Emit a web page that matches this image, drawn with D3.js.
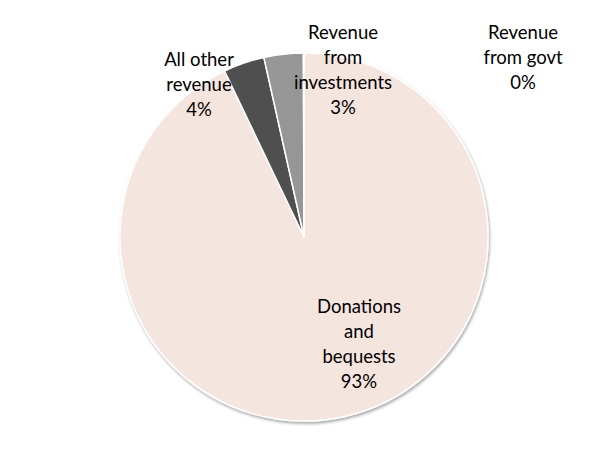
<!DOCTYPE html>
<html>
<head>
<meta charset="utf-8">
<script src="https://cdn.jsdelivr.net/npm/d3@7"></script>
<style>
  body { margin: 0; background: #fff; }
  text { font-family: "Lato", "Open Sans", sans-serif; fill: #000; }
</style>
</head>
<body>
<script>
// slice data (clockwise from 12 o'clock)
var categories = ["Donations and bequests", "All other revenue", "Revenue from investments", "Revenue from govt"];
var values = [92.9, 3.6, 3.45, 0.05];
var percentLabels = ["93%", "4%", "3%", "0%"];
var colors = ["#f5e5df", "#505050", "#969696", "#c0c0c0"];

// label lines (as Excel wraps them)
var labelLines = [
  ["Donations", "and", "bequests"],
  ["All other", "revenue"],
  ["Revenue", "from", "investments"],
  ["Revenue", "from govt"]
];
// label centre positions, in pixels relative to pie centre
var labelPos = [[55, 107.5], [-105, -152], [39, -167], [219, -179]];

var width = 610, height = 473;
var cx = 304, cy = 237, radius = 184;

var svg = d3.select("body").append("svg")
    .attr("width", width)
    .attr("height", height);

var defs = svg.append("defs");
var shadow = defs.append("filter").attr("id", "shadow")
    .attr("x", "-10%").attr("y", "-10%").attr("width", "120%").attr("height", "120%");
shadow.append("feGaussianBlur").attr("in", "SourceAlpha").attr("stdDeviation", 1.5);
shadow.append("feOffset").attr("dx", 1).attr("dy", 1.5).attr("result", "off");
shadow.append("feComponentTransfer").append("feFuncA").attr("type", "linear").attr("slope", 0.35);
var merge = shadow.append("feMerge");
merge.append("feMergeNode");
merge.append("feMergeNode").attr("in", "SourceGraphic");

var g = svg.append("g")
    .attr("transform", "translate(" + cx + "," + cy + ")");

var pie = d3.pie().sort(null).value(function(d) { return d; });
var arc = d3.arc().innerRadius(0).outerRadius(radius);

var arcs = pie(values);

g.append("g").attr("filter", "url(#shadow)")
  .selectAll("path")
  .data(arcs)
  .enter().append("path")
    .attr("d", arc)
    .attr("fill", function(d, i) { return colors[i]; })
    .attr("stroke", "#fff")
    .attr("stroke-width", 1.5)
    .attr("stroke-linejoin", "round");

var lineH = 25;
var labels = g.selectAll(".label")
  .data(categories)
  .enter().append("text")
    .attr("class", "label")
    .attr("text-anchor", "middle")
    .attr("font-size", 18.5)
    .attr("transform", function(d, i) { return "translate(" + labelPos[i][0] + "," + labelPos[i][1] + ")"; });

labels.each(function(d, i) {
  var lines = labelLines[i].concat([percentLabels[i]]);
  var t = d3.select(this);
  var y0 = -(lines.length - 1) * lineH / 2;
  lines.forEach(function(l, j) {
    t.append("tspan")
      .attr("x", 0)
      .attr("y", y0 + j * lineH)
      .attr("dy", "0.35em")
      .text(l);
  });
});
</script>
</body>
</html>
